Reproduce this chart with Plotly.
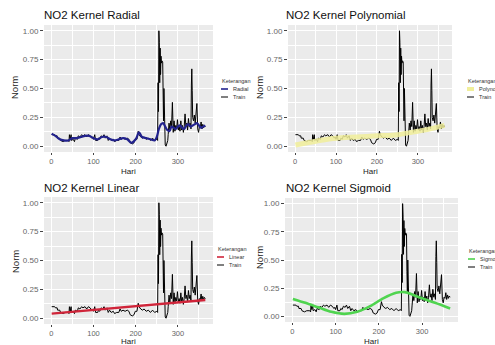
import plotly.graph_objects as go

W, H = 495, 345

# ---------------- data ----------------
train_day = [1, 8, 10, 14, 15, 20, 22, 28, 33, 40, 42, 43, 45, 47, 48, 52, 55, 57, 62, 64,
             68, 72, 75, 80, 84, 88, 92, 96, 98, 100, 103, 105, 110, 112, 115, 118, 122, 125,
             128, 132, 135, 138, 142, 147, 150, 155, 160, 163, 166, 170, 175, 180, 184, 187,
             192, 196, 199, 203, 206, 208, 212, 216, 220, 225, 230, 235, 240, 245, 250, 252,
             253, 254, 255, 256, 257, 258, 259, 260, 261, 262, 264, 265, 266, 267, 268, 269,
             270, 272, 274, 276, 277, 279, 281, 283, 285, 287, 289, 291, 293, 295, 297, 299,
             301, 303, 305, 307, 309, 311, 313, 315, 317, 319, 321, 323, 325, 327, 329, 331,
             332, 333, 334, 335, 337, 339, 341, 343, 345, 347, 349, 351, 353, 355, 357, 359,
             361, 363, 365]
train_val = [0.10, 0.10, 0.09, 0.09, 0.07, 0.07, 0.05, 0.04, 0.05, 0.05, 0.04, 0.10, 0.06, 0.10,
             0.05, 0.06, 0.04, 0.07, 0.06, 0.09, 0.08, 0.10, 0.09, 0.10, 0.08, 0.10, 0.09, 0.07,
             0.08, 0.06, 0.10, 0.05, 0.05, 0.07, 0.06, 0.09, 0.08, 0.10, 0.07, 0.09, 0.05, 0.07,
             0.05, 0.06, 0.04, 0.05, 0.05, 0.08, 0.06, 0.07, 0.06, 0.07, 0.06, 0.03, 0.02, 0.03,
             0.06, 0.06, 0.13, 0.10, 0.08, 0.07, 0.08, 0.06, 0.07, 0.05, 0.07, 0.05, 0.06, 0.05,
             0.55, 0.30, 1.00, 0.90, 0.55, 0.85, 0.62, 0.78, 0.72, 0.74, 0.73, 0.40, 0.22, 0.50,
             0.20, 0.25, 0.01, 0.00, 0.02, 0.05, 0.10, 0.20, 0.14, 0.22, 0.17, 0.38, 0.12, 0.22,
             0.13, 0.18, 0.15, 0.23, 0.14, 0.17, 0.13, 0.22, 0.14, 0.18, 0.12, 0.17, 0.28, 0.17,
             0.20, 0.14, 0.24, 0.17, 0.20, 0.15, 0.53, 0.67, 0.48, 0.25, 0.22, 0.27, 0.20, 0.32,
             0.37, 0.15, 0.12, 0.17, 0.16, 0.21, 0.15, 0.19, 0.16, 0.18, 0.17]

radial_day = [1, 5, 10, 20, 30, 40, 50, 60, 70, 80, 90, 100, 110, 120, 130, 140, 150, 160, 170,
              180, 190, 200, 208, 215, 225, 235, 245, 250, 255, 260, 265, 270, 275, 280, 285,
              290, 295, 300, 305, 310, 315, 320, 325, 330, 335, 340, 345, 350, 355, 360, 365]
radial_val = [0.11, 0.10, 0.09, 0.06, 0.05, 0.05, 0.07, 0.07, 0.08, 0.09, 0.09, 0.07, 0.06, 0.08,
              0.08, 0.06, 0.05, 0.06, 0.07, 0.06, 0.03, 0.06, 0.12, 0.08, 0.07, 0.06, 0.05, 0.08,
              0.15, 0.19, 0.20, 0.17, 0.14, 0.13, 0.17, 0.16, 0.15, 0.17, 0.18, 0.16, 0.15, 0.18,
              0.19, 0.17, 0.18, 0.19, 0.20, 0.18, 0.16, 0.17, 0.18]

poly_day = [1, 30, 60, 100, 150, 200, 250, 300, 330, 365]
poly_val = [0.01, 0.03, 0.05, 0.07, 0.08, 0.09, 0.10, 0.13, 0.15, 0.18]

linear_day = [1, 365]
linear_val = [0.04, 0.158]

sigmoid_day = [1, 30, 60, 90, 120, 150, 180, 210, 240, 260, 280, 300, 330, 365]
sigmoid_val = [0.155, 0.12, 0.08, 0.04, 0.022, 0.04, 0.09, 0.16, 0.21, 0.215, 0.19, 0.16, 0.12, 0.07]

titles = ["NO2 Kernel Radial", "NO2 Kernel Polynomial", "NO2 Kernel Linear", "NO2 Kernel Sigmoid"]
model_names = ["Radial", "Polynomial", "Linear", "Sigmoid"]
legend_title = "Keterangan"
x_title, y_title = "Hari", "Norm"
x_ticks = [0, 100, 200, 300]
y_ticks = [0.0, 0.25, 0.5, 0.75, 1.0]

models = [(radial_day, radial_val), (poly_day, poly_val), (linear_day, linear_val),
          (sigmoid_day, sigmoid_val)]
colors = ["#23238e", "#f1ef9a", "#d0253a", "#4fd44f"]
widths = [2.2, 5, 2.4, 2.6]
shapes_line = ["spline", "spline", "linear", "spline"]

# ---------------- layout geometry (pixels) ----------------
panels = [
    dict(x0=44, x1=213, y0=25, y1=152, tx=42, ty=15, lx=220, ly=81, ax=15, ay=88, hx=128, hy=171),
    dict(x0=288, x1=452, y0=25, y1=152, tx=284, ty=15, lx=466, ly=81, ax=260, ay=88, hx=370, hy=171),
    dict(x0=44, x1=213, y0=197, y1=324, tx=42, ty=188, lx=216, ly=249, ax=15, ay=262, hx=128, hy=341.5),
    dict(x0=285, x1=458, y0=198, y1=322, tx=284, ty=188, lx=467, ly=251, ax=259, ay=258, hx=371, hy=341.5),
]


def fx(p):
    return p / W


def fy(p):
    return 1 - p / H


fig = go.Figure()
annotations = []
shapes = []

for i, p in enumerate(panels):
    n = "" if i == 0 else str(i + 1)
    xa, ya = "x" + n, "y" + n
    fig.add_trace(go.Scatter(x=train_day, y=train_val, mode="lines", name="Train",
                             line=dict(color="black", width=1), xaxis=xa, yaxis=ya,
                             showlegend=False))
    md, mv = models[i]
    fig.add_trace(go.Scatter(x=md, y=mv, mode="lines", name=model_names[i],
                             line=dict(color=colors[i], width=widths[i], shape=shapes_line[i],
                                       smoothing=0.8),
                             opacity=0.85 if i == 1 else 1.0,
                             xaxis=xa, yaxis=ya, showlegend=False))
    fig.update_layout(**{
        "xaxis" + n: dict(domain=[fx(p["x0"]), fx(p["x1"])], anchor=ya, range=[-17.2, 383.2],
                          tickvals=x_ticks, ticks="outside", ticklen=2, tickcolor="#444",
                          tickwidth=0.8, showline=False, zeroline=False,
                          gridcolor="white", gridwidth=1,
                          minor=dict(dtick=50, tick0=0, showgrid=True, gridcolor="white",
                                     gridwidth=0.5, ticks=""),
                          tickfont=dict(family="Liberation Sans, Arial", size=7.5, color="#666")),
        "yaxis" + n: dict(domain=[fy(p["y1"]), fy(p["y0"])], anchor=xa, range=[-0.05, 1.05],
                          tickvals=y_ticks, tickformat=".2f", ticks="outside", ticklen=3,
                          tickcolor="#444", tickwidth=0.8, showline=False, zeroline=False,
                          gridcolor="white", gridwidth=1,
                          minor=dict(dtick=0.125, tick0=0, showgrid=True, gridcolor="white",
                                     gridwidth=0.5, ticks=""),
                          tickfont=dict(family="Liberation Sans, Arial", size=8, color="#666")),
    })
    # panel background
    shapes.append(dict(type="rect", xref="paper", yref="paper", x0=fx(p["x0"]), x1=fx(p["x1"]),
                       y0=fy(p["y1"]), y1=fy(p["y0"]), fillcolor="#ebebeb", line_width=0,
                       layer="below"))
    # title
    annotations.append(dict(text=titles[i], x=fx(p["tx"]), y=fy(p["ty"]), xref="paper",
                            yref="paper", xanchor="left", yanchor="middle", showarrow=False,
                            font=dict(family="Liberation Sans, Arial", size=11.5, color="#111")))
    # axis titles
    annotations.append(dict(text=x_title, x=fx(p["hx"]), y=fy(p["hy"]), xref="paper",
                            yref="paper", xanchor="center", yanchor="middle", showarrow=False,
                            font=dict(family="Liberation Sans, Arial", size=8, color="#222")))
    annotations.append(dict(text=y_title, x=fx(p["ax"]), y=fy(p["ay"]), xref="paper",
                            yref="paper", xanchor="center", yanchor="middle", showarrow=False,
                            textangle=-90,
                            font=dict(family="Liberation Sans, Arial", size=9.5, color="#222")))
    # legend
    lf = dict(family="Liberation Sans, Arial", size=5.5, color="#333")
    annotations.append(dict(text=legend_title, x=fx(p["lx"]), y=fy(p["ly"]), xref="paper",
                            yref="paper", xanchor="left", yanchor="middle", showarrow=False,
                            font=lf))
    for k, (nm, col, wd) in enumerate([(model_names[i], colors[i], 1.6 if i != 1 else 4),
                                       ("Train", "black", 1.0)]):
        yy = p["ly"] + 8 + 8 * k
        shapes.append(dict(type="line", xref="paper", yref="paper", x0=fx(p["lx"] + 1),
                           x1=fx(p["lx"] + 8), y0=fy(yy), y1=fy(yy),
                           line=dict(color=col, width=wd)))
        annotations.append(dict(text=nm, x=fx(p["lx"] + 11), y=fy(yy), xref="paper",
                                yref="paper", xanchor="left", yanchor="middle", showarrow=False,
                                font=lf))

fig.update_layout(width=W, height=H, margin=dict(l=0, r=0, t=0, b=0),
                  paper_bgcolor="white", plot_bgcolor="rgba(0,0,0,0)",
                  showlegend=False, annotations=annotations, shapes=shapes)

fig.write_html("out.html")
